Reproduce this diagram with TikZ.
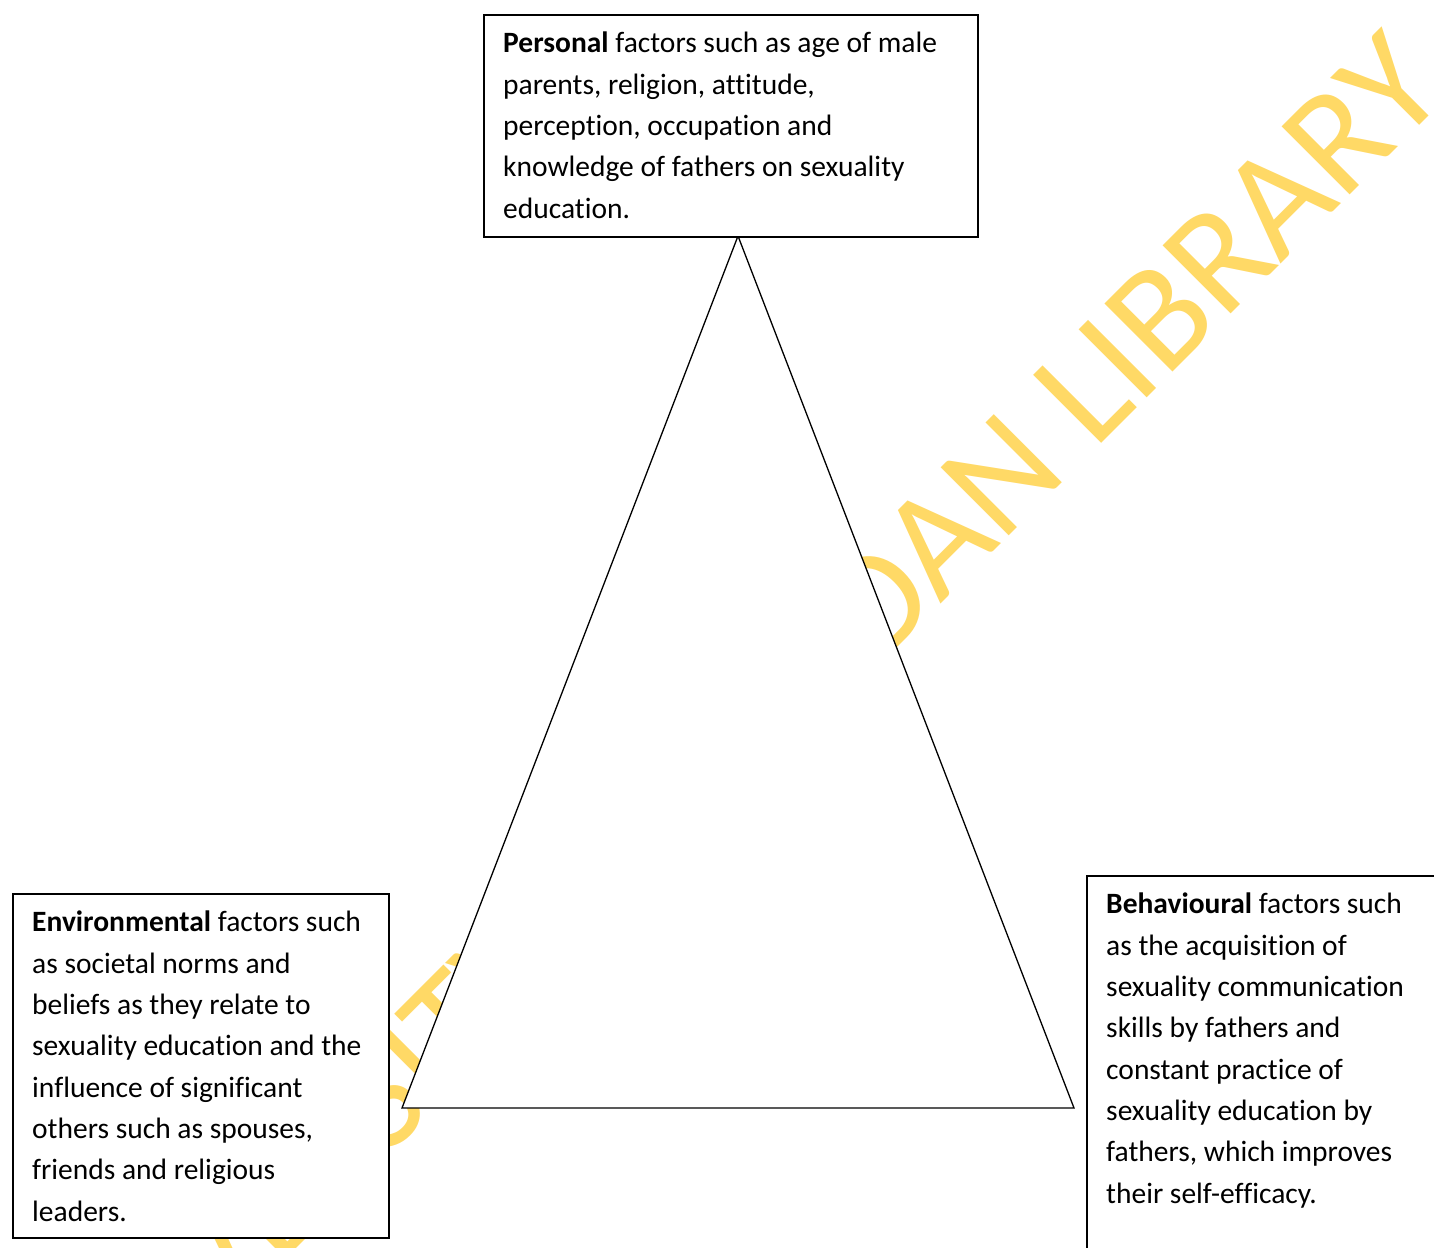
\documentclass[tikz,border=0pt]{standalone}
\usepackage{fontspec}
\setmainfont{Carlito}[Ligatures=NoCommon]
\definecolor{wmyellow}{RGB}{255,217,102}
\tikzset{
  box/.style={draw=black, line width=1.6pt, fill=white, inner sep=0pt, anchor=north west},
  txt/.style={inner sep=0pt, anchor=base west, font=\fontsize{29.5pt}{41.3pt}\selectfont, text=black},
  tri/.style={draw=black, line width=1.3pt, fill=white, line join=miter},
  wm/.style={inner sep=0pt, anchor=base west, text=wmyellow, font=\fontsize{150pt}{152pt}\selectfont, rotate=45}
}
\begin{document}
\begin{tikzpicture}[x=1pt,y=1pt]
\clip (0,0) rectangle (1434,1247);
\fill[white] (0,0) rectangle (1434,1247);
\node[wm] (wmk) at (1094,796) {\llap{UNIVERSITY OF IBADAN\ }LIBRARY};
\coordinate (apex) at (738,1011);
\coordinate (bl) at (402,139);
\coordinate (br) at (1074,139);
\draw[tri] (apex) -- (bl) -- (br) -- cycle;
\node[box, minimum width=494pt, minimum height=222pt] (pers) at (483,1233) {};
\node[box, minimum width=376pt, minimum height=344pt] (env) at (12,354) {};
\node[box, minimum width=380pt, minimum height=400pt] (beh) at (1086,372) {};
\node[txt] (perst) at (503,1194) {\parbox[t]{600pt}{\raggedright
\textbf{Personal} factors such as age of male\\
parents, religion, attitude,\\
perception, occupation and\\
knowledge of fathers on sexuality\\
education.}};
\node[txt] (envt) at (32,315) {\parbox[t]{600pt}{\raggedright
\textbf{Environmental} factors such\\
as societal norms and\\
beliefs as they relate to\\
sexuality education and the\\
influence of significant\\
others such as spouses,\\
friends and religious\\
leaders.}};
\node[txt] (beht) at (1106,333) {\parbox[t]{600pt}{\raggedright
\textbf{Behavioural} factors such\\
as the acquisition of\\
sexuality communication\\
skills by fathers and\\
constant practice of\\
sexuality education by\\
fathers, which improves\\
their self-efficacy.}};
\end{tikzpicture}
\end{document}
